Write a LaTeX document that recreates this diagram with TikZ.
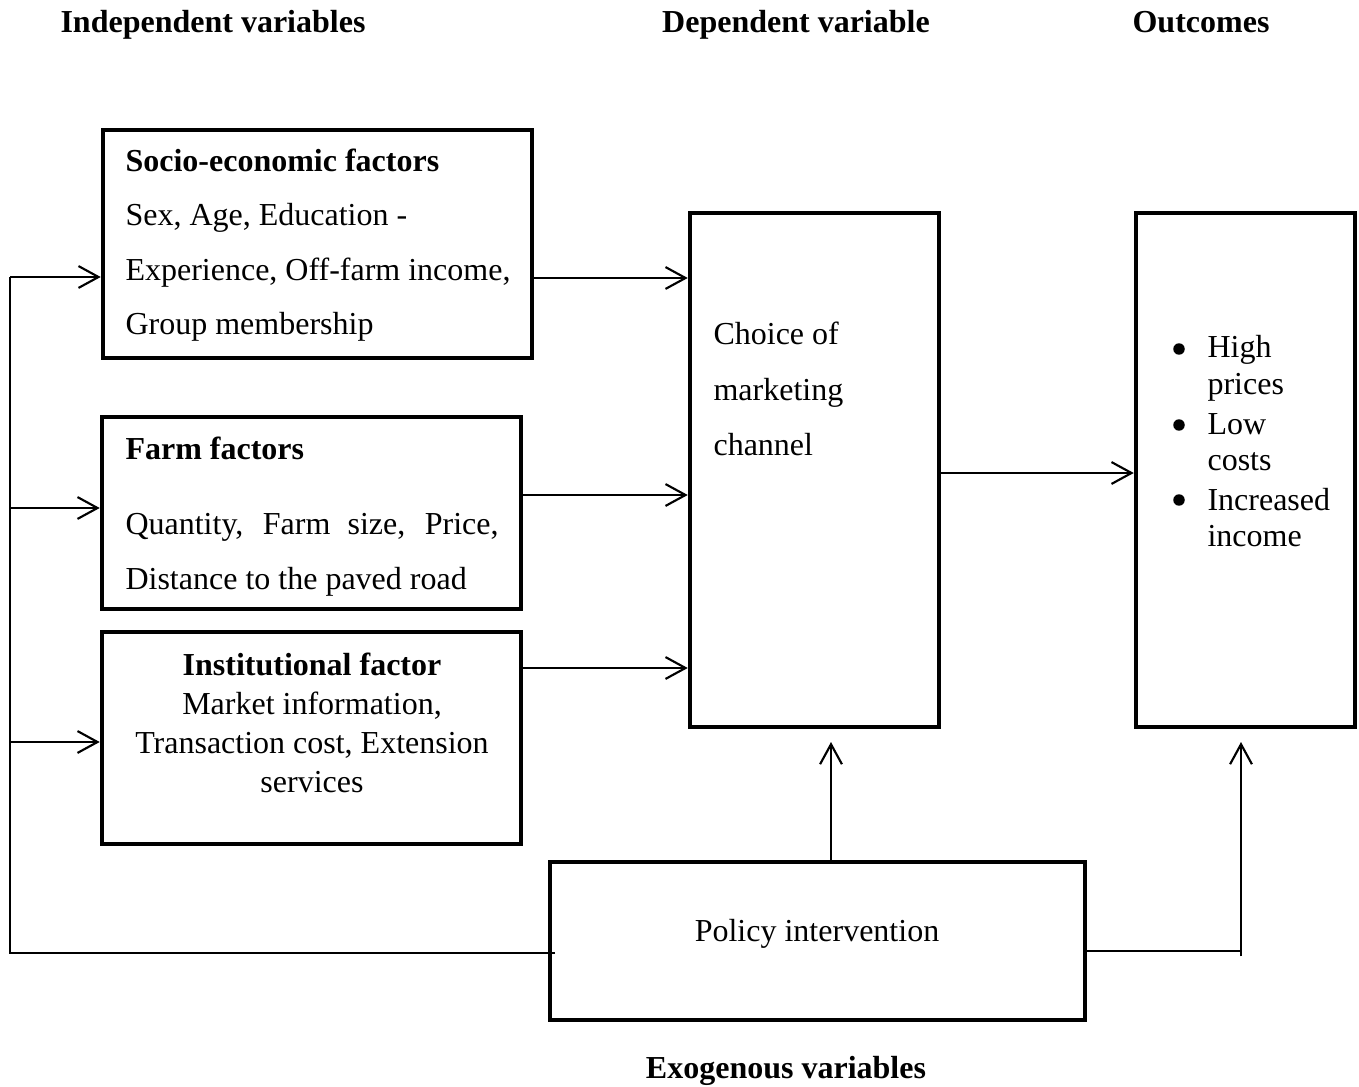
\documentclass[tikz,border=0pt]{standalone}
\usepackage{fontspec}
\setmainfont{Liberation Serif}
\usetikzlibrary{arrows.meta,fit}
\begin{document}
\begin{tikzpicture}[x=0.375pt,y=-0.375pt,
  box/.style={draw,line width=1.7pt,inner sep=0pt},
  conn/.style={line width=0.75pt},
  arr/.style={line width=0.75pt,-{Straight Barb[length=7.5pt,width=8.2pt,line width=0.8pt]}},
  txt/.style={inner sep=0pt,anchor=base west,font=\fontsize{12pt}{14pt}\selectfont},
  ctxt/.style={inner sep=0pt,anchor=base,font=\fontsize{12pt}{14pt}\selectfont},
  bul/.style={circle,fill,inner sep=0pt,minimum size=4.3pt},
  head/.style={inner sep=0pt,anchor=base,font=\fontsize{12pt}{14pt}\selectfont\bfseries}]
\useasboundingbox (0,0) rectangle (1359,1087);
% headers
\node[head] (h1) at (213,33) {Independent variables};
\node[head] (h2) at (796,33) {Dependent variable};
\node[head] (h3) at (1201,33) {Outcomes};
\node[head] (h4) at (786,1078) {Exogenous variables};
% boxes
\node[box,fit={(103,130) (532,358)}] (sb) {};
\node[box,fit={(102,417) (521,609)}] (fb) {};
\node[box,fit={(102,632) (521,844)}] (ib) {};
\node[box,fit={(690,213) (939,727)}] (cb) {};
\node[box,fit={(1136,213) (1355,727)}] (ob) {};
\node[box,fit={(550,862) (1085,1020)}] (pb) {};
% box 1 text
\node[txt] (s1) at (125,172) {\textbf{Socio-economic factors}};
\node[txt] (s2) at (125,226) {Sex, Age, Education -};
\node[txt] (s3) at (125,281) {Experience, Off-farm income,};
\node[txt] (s4) at (125,335) {Group membership};
% box 2 text
\node[txt] (f1) at (125,459) {\textbf{Farm factors}};
\node[txt] (f2) at (125,534) {\makebox[139.9pt][s]{Quantity, Farm size, Price,}};
\node[txt] (f3) at (125,589) {Distance to the paved road};
% box 3 text
\node[ctxt] (i1) at (312,675) {\textbf{Institutional factor}};
\node[ctxt] (i2) at (312,714) {Market information,};
\node[ctxt] (i3) at (312,753) {Transaction cost, Extension};
\node[ctxt] (i4) at (312,792) {services};
% choice text
\node[txt] (c1) at (713,344) {Choice of};
\node[txt] (c2) at (713,400) {marketing};
\node[txt] (c3) at (713,455) {channel};
% outcomes text
\node[bul] (b1) at (1179,349) {};
\node[txt] (o1) at (1207,358) {High};
\node[txt] (o2) at (1207,394) {prices};
\node[bul] (b2) at (1179,425) {};
\node[txt] (o3) at (1207,434) {Low};
\node[txt] (o4) at (1207,470) {costs};
\node[bul] (b3) at (1179,500) {};
\node[txt] (o5) at (1207,510) {Increased};
\node[txt] (o6) at (1207,546) {income};
% policy text
\node[ctxt] (p1) at (817,941) {Policy intervention};
% connectors
\coordinate (busTop) at (10,277);
\coordinate (busMid) at (10,508);
\coordinate (busLow) at (10,742);
\coordinate (busEnd) at (10,953);
\coordinate (pbL) at (555,953);
\draw[conn] (pbL) -- (busEnd) -- (busTop);
\draw[arr] (busTop) -- (sb.west |- busTop);
\draw[arr] (busMid) -- (fb.west |- busMid);
\draw[arr] (busLow) -- (ib.west |- busLow);
\coordinate (a1) at (532,278);
\coordinate (a2) at (521,495);
\coordinate (a3) at (521,668);
\draw[arr] (a1) -- (cb.west |- a1);
\draw[arr] (a2) -- (cb.west |- a2);
\draw[arr] (a3) -- (cb.west |- a3);
\coordinate (a4) at (939,473);
\draw[arr] (a4) -- (ob.west |- a4);
\coordinate (up1) at (831,742);
\draw[arr] (pb.north -| up1) -- (up1);
\coordinate (r1) at (1085,951);
\coordinate (r2) at (1241,951);
\coordinate (up2) at (1241,742);
\draw[conn] (r1) -- (r2);
\draw[arr] ([yshift=-2pt]r2) -- (up2);
\end{tikzpicture}
\end{document}
